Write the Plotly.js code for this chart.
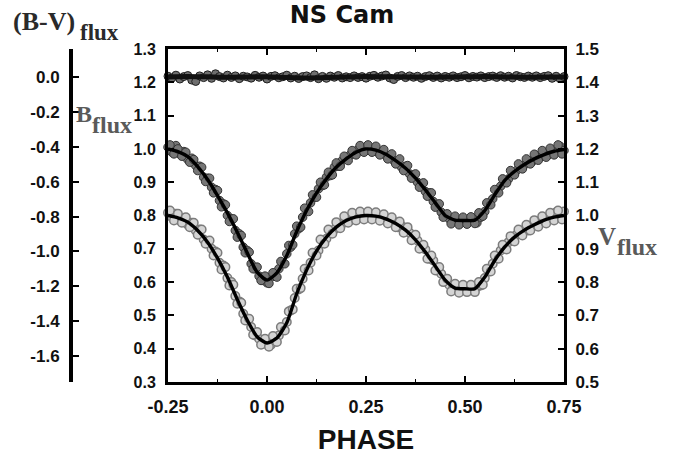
<!DOCTYPE html>
<html>
<head>
<meta charset="utf-8">
<script src="https://cdn.plot.ly/plotly-3.0.1.min.js"></script>
<style>html,body{margin:0;padding:0;background:#fff;}#chart{width:674px;height:457px;}</style>
</head>
<body>
<div id="chart"></div>
<script>
// ---------- DATA ----------
const phaseObs = [-0.25,-0.24,-0.23,-0.22,-0.21,-0.20,-0.19,-0.18,-0.17,-0.16,
  -0.15,-0.14,-0.13,-0.12,-0.11,-0.10,-0.09,-0.08,-0.07,-0.06,
  -0.05,-0.04,-0.03,-0.02,-0.01,0.00,0.01,0.02,0.03,0.04,
  0.05,0.06,0.07,0.08,0.09,0.10,0.11,0.12,0.13,0.14,
  0.15,0.16,0.17,0.18,0.19,0.20,0.21,0.22,0.23,0.24,
  0.25,0.26,0.27,0.28,0.29,0.30,0.31,0.32,0.33,0.34,
  0.35,0.36,0.37,0.38,0.39,0.40,0.41,0.42,0.43,0.44,
  0.45,0.46,0.47,0.48,0.49,0.50,0.51,0.52,0.53,0.54,
  0.55,0.56,0.57,0.58,0.59,0.60,0.61,0.62,0.63,0.64,
  0.65,0.66,0.67,0.68,0.69,0.70,0.71,0.72,0.73,0.74,0.75];

const phaseObs2 = [-0.245,-0.235,-0.225,-0.215,-0.205,-0.195,-0.185,-0.175,-0.165,-0.155,
  -0.145,-0.135,-0.125,-0.115,-0.105,-0.095,-0.085,-0.075,-0.065,-0.055,
  -0.045,-0.035,-0.025,-0.015,-0.005,0.005,0.015,0.025,0.035,0.045,
  0.055,0.065,0.075,0.085,0.095,0.105,0.115,0.125,0.135,0.145,
  0.155,0.165,0.175,0.185,0.195,0.205,0.215,0.225,0.235,0.245,
  0.255,0.265,0.275,0.285,0.295,0.305,0.315,0.325,0.335,0.345,
  0.355,0.365,0.375,0.385,0.395,0.405,0.415,0.425,0.435,0.445,
  0.455,0.465,0.475,0.485,0.495,0.505,0.515,0.525,0.535,0.545,
  0.555,0.565,0.575,0.585,0.595,0.605,0.615,0.625,0.635,0.645,
  0.655,0.665,0.675,0.685,0.695,0.705,0.715,0.725,0.735,0.745];

const bFluxObs = [1.005,0.990,1.010,0.985,0.992,0.968,0.972,0.950,0.948,0.915,
  0.912,0.885,0.878,0.845,0.835,0.800,0.790,0.755,0.745,0.705,
  0.695,0.655,0.640,0.618,0.605,0.598,0.615,0.620,0.640,0.658,
  0.685,0.705,0.745,0.760,0.795,0.818,0.838,0.855,0.880,0.890,
  0.915,0.920,0.945,0.948,0.965,0.972,0.982,0.985,0.998,0.995,
  1.005,0.998,1.002,0.990,0.992,0.980,0.978,0.965,0.962,0.945,
  0.948,0.925,0.922,0.900,0.895,0.872,0.868,0.842,0.830,0.810,
  0.798,0.790,0.782,0.788,0.778,0.785,0.780,0.790,0.778,0.795,
  0.812,0.835,0.850,0.875,0.888,0.905,0.910,0.930,0.935,0.950,
  0.952,0.965,0.962,0.978,0.975,0.988,0.982,0.995,0.990,1.008,0.995];

const bFluxObs2 = [1.012,0.985,1.000,0.978,0.990,0.960,0.968,0.935,0.945,0.902,
  0.912,0.868,0.875,0.826,0.832,0.782,0.790,0.735,0.740,0.688,
  0.690,0.640,0.645,0.605,0.618,0.596,0.628,0.615,0.662,0.655,
  0.710,0.712,0.768,0.765,0.822,0.812,0.862,0.855,0.900,0.892,
  0.930,0.922,0.958,0.948,0.978,0.965,0.995,0.982,1.010,0.990,
  1.012,0.990,1.008,0.982,0.998,0.970,0.985,0.955,0.970,0.935,
  0.950,0.912,0.925,0.885,0.898,0.858,0.868,0.825,0.835,0.795,
  0.805,0.775,0.798,0.772,0.795,0.774,0.796,0.776,0.808,0.798,
  0.838,0.832,0.878,0.868,0.910,0.898,0.935,0.922,0.955,0.940,
  0.970,0.955,0.984,0.966,0.995,0.975,1.002,0.982,1.012,0.985];

const vFluxObs = [1.008,0.995,1.005,0.985,0.992,0.972,0.978,0.955,0.958,0.928,
  0.922,0.900,0.892,0.858,0.850,0.812,0.800,0.758,0.742,0.705,
  0.690,0.665,0.640,0.630,0.615,0.618,0.612,0.628,0.640,0.660,
  0.680,0.715,0.752,0.778,0.810,0.835,0.858,0.885,0.895,0.925,
  0.930,0.950,0.958,0.975,0.975,0.990,0.985,0.998,0.992,1.005,
  0.998,1.004,0.995,1.000,0.990,0.992,0.980,0.982,0.965,0.968,
  0.952,0.948,0.935,0.925,0.905,0.898,0.870,0.865,0.835,0.825,
  0.805,0.792,0.782,0.778,0.785,0.776,0.782,0.778,0.785,0.790,
  0.812,0.832,0.855,0.872,0.895,0.900,0.920,0.925,0.942,0.945,
  0.958,0.955,0.972,0.970,0.985,0.982,0.995,0.990,1.010,1.000,1.012];

const vFluxObs2 = [1.015,0.985,1.005,0.978,0.995,0.965,0.978,0.942,0.958,0.915,
  0.925,0.880,0.888,0.838,0.845,0.790,0.792,0.735,0.738,0.685,
  0.690,0.642,0.650,0.612,0.630,0.606,0.638,0.620,0.665,0.655,
  0.712,0.718,0.780,0.782,0.840,0.835,0.888,0.880,0.928,0.915,
  0.958,0.945,0.980,0.962,0.998,0.978,1.008,0.985,1.012,0.988,
  1.012,0.988,1.010,0.984,1.004,0.976,0.995,0.965,0.982,0.948,
  0.965,0.926,0.942,0.900,0.912,0.870,0.880,0.835,0.845,0.800,
  0.810,0.772,0.795,0.768,0.792,0.770,0.792,0.770,0.800,0.792,
  0.840,0.832,0.880,0.870,0.912,0.898,0.938,0.922,0.958,0.940,
  0.972,0.955,0.986,0.966,0.998,0.976,1.008,0.985,1.015,0.988];

const bvFluxObs = [0.004,-0.006,0.010,-0.012,0.002,0.008,-0.018,-0.026,0.006,-0.004,
  0.012,-0.008,0.018,0.002,-0.006,0.010,-0.003,0.006,-0.010,0.004,
  0.000,-0.007,0.009,-0.002,0.005,-0.012,0.003,0.007,-0.005,0.001,
  0.010,-0.006,0.004,-0.009,0.002,0.006,-0.004,0.012,-0.010,0.003,
  -0.008,0.005,-0.002,0.008,-0.006,0.001,-0.004,0.006,-0.003,0.002,
  -0.007,0.004,0.009,-0.002,0.005,0.011,-0.006,-0.015,0.003,0.008,
  -0.004,0.006,-0.002,0.004,-0.008,0.002,0.007,-0.003,0.005,-0.006,
  0.003,-0.002,0.006,-0.004,0.001,0.008,-0.005,0.003,-0.001,0.006,
  -0.004,0.002,0.005,-0.003,0.007,-0.002,0.004,-0.006,0.008,0.001,
  -0.003,0.005,-0.002,0.006,-0.004,0.003,0.007,-0.008,0.004,-0.010,0.002];

const phaseFit = [-0.25,-0.225,-0.20,-0.175,-0.15,-0.125,-0.10,-0.075,-0.05,-0.025,
  0.00,0.025,0.05,0.075,0.10,0.125,0.15,0.175,0.20,0.225,
  0.25,0.275,0.30,0.325,0.35,0.375,0.40,0.425,0.45,0.475,
  0.50,0.525,0.55,0.575,0.60,0.625,0.65,0.675,0.70,0.725,0.75];

const bFluxFit = [1.000,0.992,0.977,0.947,0.908,0.860,0.808,0.750,0.688,0.630,
  0.606,0.628,0.680,0.752,0.815,0.867,0.910,0.945,0.970,0.990,
  1.000,0.996,0.984,0.965,0.942,0.912,0.877,0.838,0.800,0.786,
  0.785,0.786,0.815,0.862,0.905,0.932,0.953,0.970,0.983,0.993,0.998];

const vFluxFit = [1.000,0.993,0.980,0.955,0.920,0.872,0.815,0.748,0.686,0.636,
  0.617,0.632,0.678,0.765,0.836,0.893,0.935,0.965,0.985,0.996,
  1.000,0.998,0.990,0.976,0.956,0.927,0.890,0.848,0.806,0.782,
  0.780,0.780,0.815,0.865,0.905,0.935,0.956,0.972,0.986,0.995,1.000];

const phaseBvFit = [-0.25,-0.20,-0.15,-0.10,-0.05,0.00,0.05,0.10,0.15,0.20,
  0.25,0.30,0.35,0.40,0.45,0.50,0.55,0.60,0.65,0.70,0.75];
const bvFluxFit = [0.000,0.002,0.001,-0.002,0.000,0.001,-0.003,-0.006,-0.004,0.000,
  0.002,0.001,0.000,-0.002,-0.001,0.001,0.002,0.000,-0.002,-0.001,0.000];

const phaseTicks = [-0.25,0,0.25,0.5,0.75];
const phaseTickText = ['-0.25','0.00','0.25','0.50','0.75'];
const phaseMinorTicks = [-0.125,0.125,0.375,0.625];
const bTicks = [0.3,0.4,0.5,0.6,0.7,0.8,0.9,1.0,1.1,1.2,1.3];
const bTickText = ['0.3','0.4','0.5','0.6','0.7','0.8','0.9','1.0','1.1','1.2','1.3'];
const vTicks = [0.5,0.6,0.7,0.8,0.9,1.0,1.1,1.2,1.3,1.4,1.5];
const vTickText = ['0.5','0.6','0.7','0.8','0.9','1.0','1.1','1.2','1.3','1.4','1.5'];
const bvTicks = [0.0,-0.2,-0.4,-0.6,-0.8,-1.0,-1.2,-1.4,-1.6];
const bvTickText = ['0.0','-0.2','-0.4','-0.6','-0.8','-1.0','-1.2','-1.4','-1.6'];

// ---------- LAYOUT HELPERS ----------
const W = 674, H = 457, ML = 10, MR = 10, MT = 49, MB = 75;
const PW = W - ML - MR, PH = H - MT - MB;
const px = x => (x - ML) / PW;
const py = y => (H - MB - y) / PH;

const tickFont = {family:'Liberation Sans, Arial, sans-serif', size:16, weight:'bold', color:'#111'};
const serif = 'Liberation Serif, Times New Roman, serif';

const vMarker = {size:8.5, color:'#d4d4d4', line:{color:'#7c7c7c', width:1.5}};
const bMarker = {size:8.5, color:'#767676', line:{color:'#333', width:1}};
const fitLine = {color:'#000', width:3.4, shape:'spline', smoothing:0.6};

const traces = [
  {x:phaseObs, y:vFluxObs, yaxis:'y2', type:'scatter', mode:'markers', cliponaxis:false, marker:vMarker},
  {x:phaseObs2, y:vFluxObs2, yaxis:'y2', type:'scatter', mode:'markers', cliponaxis:false, marker:vMarker},
  {x:phaseFit, y:vFluxFit, yaxis:'y2', type:'scatter', mode:'lines', cliponaxis:false, line:fitLine},
  {x:phaseObs, y:bFluxObs, yaxis:'y', type:'scatter', mode:'markers', cliponaxis:false, marker:bMarker},
  {x:phaseObs2, y:bFluxObs2, yaxis:'y', type:'scatter', mode:'markers', cliponaxis:false, marker:bMarker},
  {x:phaseFit, y:bFluxFit, yaxis:'y', type:'scatter', mode:'lines', cliponaxis:false, line:fitLine},
  {x:phaseObs, y:bvFluxObs, yaxis:'y3', type:'scatter', mode:'markers', cliponaxis:false,
   marker:{size:8, color:'#6e6e6e', line:{color:'#1e1e1e', width:1}}},
  {x:phaseBvFit, y:bvFluxFit, yaxis:'y3', type:'scatter', mode:'lines', cliponaxis:false,
   line:{color:'#111', width:5, shape:'spline', smoothing:0.6}}
];

const layout = {
  width:W, height:H,
  margin:{l:ML, r:MR, t:MT, b:MB, pad:0},
  paper_bgcolor:'#fff', plot_bgcolor:'#fff',
  showlegend:false,
  title:{text:'NS Cam', font:{family:'DejaVu Sans, sans-serif', size:24, weight:'bold', color:'#111'},
         x:342/W, xanchor:'center', xref:'container', y:1-15/H, yanchor:'middle', yref:'container'},
  xaxis:{domain:[px(168), px(564)], range:[-0.25,0.75], tickvals:phaseTicks, ticktext:phaseTickText,
         ticks:'inside', ticklen:6, tickwidth:2, tickcolor:'#000',
         showline:true, linewidth:3, linecolor:'#000', mirror:'ticks',
         showgrid:false, zeroline:false,
         minor:{tickvals:phaseMinorTicks, ticks:'inside', ticklen:3, tickwidth:1.5, tickcolor:'#000'},
         tickfont:Object.assign({}, tickFont, {size:18}), ticklabelstandoff:6,
         title:{text:'PHASE', font:{family:'Liberation Sans, Arial, sans-serif', size:28, weight:'bold', color:'#111'}, standoff:14}},
  yaxis:{range:[0.3,1.3], tickvals:bTicks, ticktext:bTickText,
         ticks:'inside', ticklen:6, tickwidth:2, tickcolor:'#000',
         showline:true, linewidth:3, linecolor:'#000', mirror:false,
         showgrid:false, zeroline:false, tickfont:tickFont, ticklabelstandoff:6},
  yaxis2:{overlaying:'y', side:'right', anchor:'x', range:[0.5,1.5], tickvals:vTicks, ticktext:vTickText,
         ticks:'inside', ticklen:6, tickwidth:2, tickcolor:'#000',
         showline:true, linewidth:3, linecolor:'#000',
         showgrid:false, zeroline:false, tickfont:Object.assign({}, tickFont, {size:17}), ticklabelstandoff:5},
  yaxis3:{overlaying:'y', side:'left', anchor:'free', position:px(70), range:[-1.748,0.16],
         tickvals:bvTicks, ticktext:bvTickText,
         ticks:'inside', ticklen:6, tickwidth:2, tickcolor:'#000',
         showline:true, linewidth:3.5, linecolor:'#000',
         showgrid:false, zeroline:false, tickfont:Object.assign({}, tickFont, {size:17}), ticklabelstandoff:6},
  annotations:[
    {text:'(B-V)', xref:'paper', yref:'paper', x:px(11), y:py(22), xanchor:'left', yanchor:'middle', showarrow:false,
     font:{family:serif, size:26, weight:'bold', color:'#2a2a2a'}},
    {text:'flux', xref:'paper', yref:'paper', x:px(78), y:py(33), xanchor:'left', yanchor:'middle', showarrow:false,
     font:{family:serif, size:23, weight:'bold', color:'#2a2a2a'}},
    {text:'B', xref:'paper', yref:'paper', x:px(74), y:py(114), xanchor:'left', yanchor:'middle', showarrow:false,
     font:{family:serif, size:24, weight:'bold', color:'#5a5a5a'}},
    {text:'flux', xref:'paper', yref:'paper', x:px(90), y:py(125), xanchor:'left', yanchor:'middle', showarrow:false,
     font:{family:serif, size:24, weight:'bold', color:'#5a5a5a'}},
    {text:'V', xref:'paper', yref:'paper', x:px(596), y:py(236), xanchor:'left', yanchor:'middle', showarrow:false,
     font:{family:serif, size:25, weight:'bold', color:'#5a5a5a'}},
    {text:'flux', xref:'paper', yref:'paper', x:px(615), y:py(247), xanchor:'left', yanchor:'middle', showarrow:false,
     font:{family:serif, size:24, weight:'bold', color:'#5a5a5a'}}
  ]
};

Plotly.newPlot('chart', traces, layout, {staticPlot:true, displayModeBar:false});
</script>
</body>
</html>
